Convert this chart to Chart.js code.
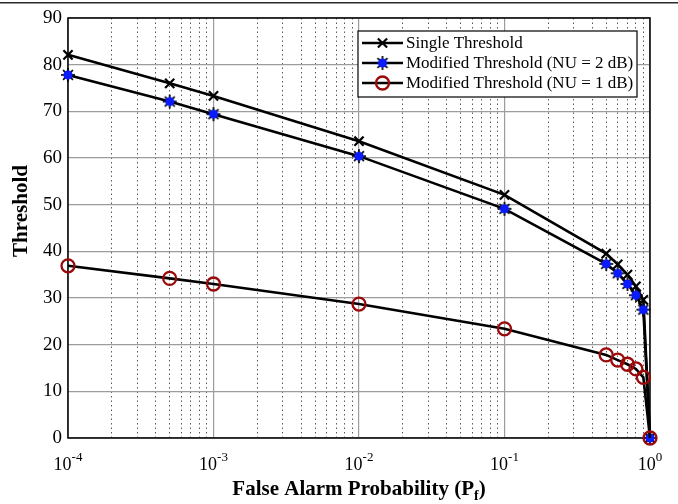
<!DOCTYPE html>
<html>
<head>
<meta charset="utf-8">
<script src="https://cdn.jsdelivr.net/npm/chart.js@4.4.1/dist/chart.umd.min.js"></script>
<style>
  html, body { margin: 0; padding: 0; background: #fff; }
  canvas { display: block; }
</style>
</head>
<body>
<canvas id="chart" width="678" height="504"></canvas>
<script>
// False alarm probability (x) and the threshold curves
const falseAlarmProb  = [1e-4, 5e-4, 1e-3, 1e-2, 1e-1, 0.5, 0.6, 0.7, 0.8, 0.9, 1];
const singleThreshold = [82.1, 76.0, 73.3, 63.6, 52.1, 39.5, 37.2, 35.0, 32.5, 29.6, 0];
const modifiedNu2     = [77.8, 72.1, 69.4, 60.4, 49.1, 37.3, 35.3, 33.0, 30.6, 27.5, 0];
const modifiedNu1     = [36.9, 34.2, 33.0, 28.7, 23.4, 17.8, 16.7, 15.8, 14.8, 13.0, 0];

const seriesNames = [
  'Single Threshold',
  'Modified Threshold (NU = 2 dB)',
  'Modified Threshold (NU = 1 dB)'
];

// Axis ticks
const xDecadeExponents = [-4, -3, -2, -1, 0];
const yTickValues = [0, 10, 20, 30, 40, 50, 60, 70, 80, 90];

const xTitleMain = 'False Alarm Probability (P';
const xTitleSub = 'f';
const xTitleEnd = ')';
const yTitle = 'Threshold';

const SERIF = '"Liberation Serif", "Times New Roman", serif';

// Filled blue asterisk marker
function asteriskMarker() {
  const c = document.createElement('canvas');
  c.width = 16; c.height = 16;
  const g = c.getContext('2d');
  const m = 8;
  g.strokeStyle = '#000';
  g.lineWidth = 1.7;
  for (let k = 0; k < 4; k++) {
    const a = k * Math.PI / 4;
    g.beginPath();
    g.moveTo(m - 7 * Math.cos(a), m - 7 * Math.sin(a));
    g.lineTo(m + 7 * Math.cos(a), m + 7 * Math.sin(a));
    g.stroke();
  }
  g.fillStyle = '#0a1cff';
  g.beginPath();
  g.arc(m, m, 4.6, 0, Math.PI * 2);
  g.fill();
  return c;
}
const blueStar = asteriskMarker();

const toPoints = ys => falseAlarmProb.map((x, i) => ({ x, y: ys[i] }));

const datasets = [
  {
    label: seriesNames[0],
    data: toPoints(singleThreshold),
    borderColor: '#000',
    borderWidth: 2.6,
    pointStyle: 'crossRot',
    pointRadius: 6.5,
    pointBorderWidth: 2.2,
    pointBorderColor: '#000',
    pointBackgroundColor: '#000',
    order: 3
  },
  {
    label: seriesNames[1],
    data: toPoints(modifiedNu2),
    borderColor: '#000',
    borderWidth: 2.6,
    pointStyle: blueStar,
    pointRadius: 7,
    order: 2
  },
  {
    label: seriesNames[2],
    data: toPoints(modifiedNu1),
    borderColor: '#000',
    borderWidth: 2.6,
    pointStyle: 'circle',
    pointRadius: 6.5,
    pointBorderWidth: 2.3,
    pointBorderColor: '#9a0a0a',
    pointBackgroundColor: 'rgba(0,0,0,0)',
    order: 1
  }
];

// Minor/major ticks for the log axis: 1..9 x 10^k
function logTicks() {
  const ticks = [];
  for (let i = 0; i < xDecadeExponents.length; i++) {
    const e = xDecadeExponents[i];
    const base = Math.pow(10, e);
    if (i === xDecadeExponents.length - 1) {
      ticks.push({ value: base, major: true });
      break;
    }
    for (let m = 1; m <= 9; m++) {
      ticks.push({ value: m * base, major: m === 1 });
    }
  }
  return ticks;
}

const decorations = {
  id: 'decorations',
  beforeDraw(chart) {
    const ctx = chart.ctx;
    ctx.save();
    ctx.fillStyle = '#2a2a2a';
    ctx.fillRect(0, 2, chart.width, 1.5);
    ctx.restore();
  },
  beforeDatasetsDraw(chart) {
    const { ctx, chartArea: a } = chart;
    ctx.save();
    ctx.strokeStyle = '#000';
    ctx.lineWidth = 1.5;
    ctx.strokeRect(a.left, a.top, a.right - a.left, a.bottom - a.top);
    ctx.restore();
  },
  afterDraw(chart) {
    const { ctx, chartArea: a, scales } = chart;
    const xs = scales.x;
    ctx.save();
    ctx.fillStyle = '#000';
    ctx.textBaseline = 'alphabetic';
    ctx.textAlign = 'left';

    // x tick labels with superscript exponents
    xDecadeExponents.forEach(e => {
      const px = xs.getPixelForValue(Math.pow(10, e));
      const base = '10';
      const sup = e < 0 ? '-' + Math.abs(e) : String(e);
      ctx.font = '18px ' + SERIF;
      const wb = ctx.measureText(base).width;
      ctx.font = '13px ' + SERIF;
      const ws = ctx.measureText(sup).width;
      const start = px - (wb + ws) / 2;
      ctx.font = '18px ' + SERIF;
      ctx.fillText(base, start, a.bottom + 32);
      ctx.font = '13px ' + SERIF;
      ctx.fillText(sup, start + wb, a.bottom + 23);
    });

    // x title with subscript
    ctx.font = 'bold 21px ' + SERIF;
    const w1 = ctx.measureText(xTitleMain).width;
    const w3 = ctx.measureText(xTitleEnd).width;
    ctx.font = 'bold 14px ' + SERIF;
    const w2 = ctx.measureText(xTitleSub).width;
    const total = w1 + w2 + w3;
    const tx = (a.left + a.right) / 2 - total / 2;
    const ty = a.bottom + 57;
    ctx.font = 'bold 21px ' + SERIF;
    ctx.fillText(xTitleMain, tx, ty);
    ctx.font = 'bold 14px ' + SERIF;
    ctx.fillText(xTitleSub, tx + w1, ty + 5);
    ctx.font = 'bold 21px ' + SERIF;
    ctx.fillText(xTitleEnd, tx + w1 + w2, ty);

    // y title
    ctx.save();
    ctx.translate(22, 211);
    ctx.rotate(-Math.PI / 2);
    ctx.textAlign = 'center';
    ctx.textBaseline = 'middle';
    ctx.font = 'bold 21px ' + SERIF;
    ctx.fillText(yTitle, 0, 0);
    ctx.restore();

    // legend
    const box = { left: a.right - 292, top: a.top + 13, width: 279, height: 66 };
    ctx.fillStyle = '#fff';
    ctx.fillRect(box.left, box.top, box.width, box.height);
    ctx.strokeStyle = '#000';
    ctx.lineWidth = 1.2;
    ctx.strokeRect(box.left, box.top, box.width, box.height);
    ctx.font = '17px ' + SERIF;
    ctx.textBaseline = 'middle';
    chart.data.datasets.forEach((ds, i) => {
      const yy = box.top + 12 + i * 20;
      const x0 = box.left + 4, x1 = box.left + 45, xm = (x0 + x1) / 2;
      ctx.strokeStyle = ds.borderColor;
      ctx.lineWidth = ds.borderWidth;
      ctx.beginPath();
      ctx.moveTo(x0, yy);
      ctx.lineTo(x1, yy);
      ctx.stroke();
      ctx.save();
      ctx.strokeStyle = ds.pointBorderColor || '#000';
      ctx.fillStyle = ds.pointBackgroundColor || 'rgba(0,0,0,0)';
      ctx.lineWidth = ds.pointBorderWidth || 1;
      Chart.helpers.drawPoint(ctx, {
        pointStyle: ds.pointStyle,
        radius: ds.pointRadius,
        borderWidth: ds.pointBorderWidth || 1,
        rotation: 0
      }, xm, yy);
      ctx.restore();
      ctx.fillStyle = '#000';
      ctx.textAlign = 'left';
      ctx.fillText(ds.label, x1 + 3, yy + 1);
    });
    ctx.restore();
  }
};

new Chart(document.getElementById('chart'), {
  type: 'line',
  data: { datasets },
  options: {
    responsive: false,
    animation: false,
    devicePixelRatio: 1,
    clip: false,
    layout: { padding: { left: 0, top: 18, right: 28, bottom: 0 } },
    plugins: {
      legend: { display: false },
      tooltip: { enabled: false }
    },
    elements: { line: { tension: 0 } },
    scales: {
      x: {
        type: 'logarithmic',
        min: 1e-4,
        max: 1,
        afterBuildTicks(scale) { scale.ticks = logTicks(); },
        afterFit(scale) { scale.height = 66; },
        ticks: { display: false, autoSkip: false },
        grid: {
          drawTicks: false,
          color: c => (c.tick && c.tick.major) ? '#9c9c9c' : '#5a5a5a',
          lineWidth: c => (c.tick && c.tick.major) ? 1.2 : 1
        },
        border: {
          display: false,
          dash: c => (c.tick && c.tick.major) ? [] : [1.5, 3]
        }
      },
      y: {
        min: 0,
        max: 90,
        afterBuildTicks(scale) { scale.ticks = yTickValues.map(v => ({ value: v })); },
        afterFit(scale) { scale.width = 68; },
        ticks: {
          padding: 6,
          color: '#000',
          font: { family: SERIF, size: 19 }
        },
        grid: {
          drawTicks: false,
          color: '#9c9c9c',
          lineWidth: 1.2
        },
        border: { display: false }
      }
    }
  },
  plugins: [decorations]
});
</script>
</body>
</html>
